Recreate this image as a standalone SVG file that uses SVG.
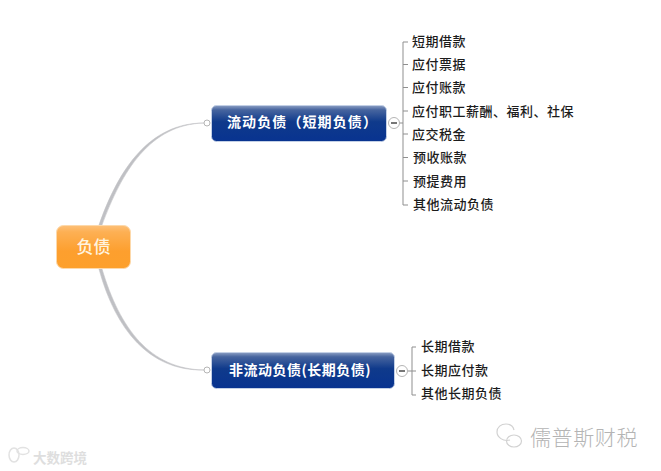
<svg xmlns="http://www.w3.org/2000/svg" width="661" height="471" viewBox="0 0 661 471">
<defs>
<linearGradient id="blue" x1="0" y1="0" x2="0" y2="1"><stop offset="0" stop-color="#8c9fc4"/><stop offset="0.12" stop-color="#47659f"/><stop offset="0.45" stop-color="#0f3a8b"/><stop offset="1" stop-color="#083390"/></linearGradient>
<linearGradient id="orange" x1="0" y1="0" x2="0" y2="1"><stop offset="0" stop-color="#fdc078"/><stop offset="0.15" stop-color="#fdb054"/><stop offset="0.6" stop-color="#fd9f2e"/><stop offset="1" stop-color="#fda02c"/></linearGradient>
</defs>
<style>
text{font-family:"Noto Sans CJK SC","Noto Sans CJK TC",sans-serif}
.leaf{font-size:13px;fill:#1c1c1c;letter-spacing:.5px;dominant-baseline:central;font-weight:500}
.main{font-size:14px;fill:#fff;font-weight:700;dominant-baseline:central;letter-spacing:.3px}
.blue{fill:url(#blue);stroke:#c3d0e6;stroke-width:1}
.curve{fill:#bfc0c4;stroke:#c4c4c8;stroke-width:.6}
.thin{fill:none;stroke:#8f8f8f;stroke-width:1}
.dot{fill:#fff;stroke:#b5b5b5;stroke-width:1}
.minus{fill:none;stroke:#555;stroke-width:1.6}
</style>
<rect width="661" height="471" fill="#fff"/>
<g id="connectors">
<path class="curve" d="M99 225C119 168 150 123 204 123C150 124.500 122 171 102 225Z"/>
<path class="curve" d="M99 269C116 331 150 371 204 370C150 369 120 329 102 269Z"/>
<circle class="dot" cx="207" cy="123" r="3"/>
<circle class="dot" cx="207" cy="370" r="3"/>
<path class="thin" d="M399 123H403M408 42H403V205H408M403 64.500H408M403 87.500H408M403 111H408M403 134H408M403 157.500H408M403 181H408"/>
<path class="thin" d="M407 371H412M416 347H412V395H416M412 371H416"/>
</g>
<g id="node-root">
<rect x="56.500" y="225.500" width="74" height="43" rx="7" fill="url(#orange)" stroke="#fdd9ab"/>
<text x="93.500" y="245" style="font-size:17px;fill:#fff3df;font-weight:500;dominant-baseline:central;text-anchor:middle">负债</text>
</g>
<g id="node-current">
<rect class="blue" x="211.500" y="105.500" width="175" height="36" rx="5"/>
<text class="main" x="227" y="121" style="letter-spacing:1.100px">流动负债（短期负债）</text>
<circle class="dot" cx="394" cy="123" r="5.500"/>
<path class="minus" d="M391 123H397"/>
</g>
<g id="node-noncurrent">
<rect class="blue" x="211.500" y="352.500" width="183" height="36" rx="5"/>
<text class="main" x="229" y="369" style="letter-spacing:.5px">非流动负债(长期负债)</text>
<circle class="dot" cx="402" cy="371" r="5.500"/>
<path class="minus" d="M399 371H405"/>
</g>
<g id="leaf-1"><text class="leaf" x="412" y="40">短期借款</text></g>
<g id="leaf-2"><text class="leaf" x="412" y="63">应付票据</text></g>
<g id="leaf-3"><text class="leaf" x="412" y="86">应付账款</text></g>
<g id="leaf-4"><text class="leaf" x="412" y="110">应付职工薪酬、福利、社保</text></g>
<g id="leaf-5"><text class="leaf" x="412" y="133">应交税金</text></g>
<g id="leaf-6"><text class="leaf" x="413" y="156">预收账款</text></g>
<g id="leaf-7"><text class="leaf" x="413" y="180">预提费用</text></g>
<g id="leaf-8"><text class="leaf" x="413" y="203">其他流动负债</text></g>
<g id="leaf-9"><text class="leaf" x="421" y="345">长期借款</text></g>
<g id="leaf-10"><text class="leaf" x="421" y="369">长期应付款</text></g>
<g id="leaf-11"><text class="leaf" x="421" y="392">其他长期负债</text></g>
<text x="530" y="436" style="font-size:21px;fill:#b4b4b4;letter-spacing:.6px;dominant-baseline:central;font-weight:300">儒普斯财税</text>
<text x="33" y="457" style="font-size:13.500px;fill:#dedede;dominant-baseline:central;font-weight:700">大数跨境</text>
<g fill="none" stroke="#d2d2d2" stroke-width="1.200">
<path d="M510 440C503 442 497 437 497 432C497 427 501 424 506 424C510 424 513 426 514 430"/>
<ellipse cx="514" cy="441" rx="7.500" ry="6"/>
</g>
<g fill="none" stroke="#e2e2e2" stroke-width="1.500">
<ellipse cx="14" cy="455" rx="5" ry="7"/>
<ellipse cx="23" cy="451" rx="6" ry="3.500"/>
</g>
</svg>
